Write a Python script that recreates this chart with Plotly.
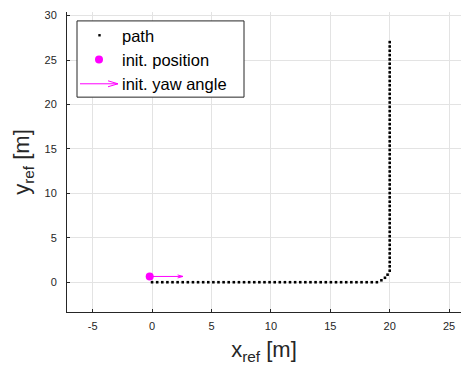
import math
import plotly.graph_objects as go

# ---------------- data ----------------
# straight leg along the x axis (y = 0)
leg1_x = [0.00, 0.43, 0.86, 1.29, 1.72, 2.15, 2.58, 3.01, 3.44, 3.87, 4.30, 4.73,
          5.16, 5.59, 6.02, 6.45, 6.88, 7.31, 7.74, 8.17, 8.60, 9.03, 9.46, 9.89,
          10.32, 10.75, 11.18, 11.61, 12.04, 12.47, 12.90, 13.33, 13.76, 14.19,
          14.62, 15.05, 15.48, 15.91, 16.34, 16.77, 17.20, 17.63, 18.06, 18.49, 18.92]
leg1_y = [0.0] * len(leg1_x)
# turn
corner_x = [19.30, 19.60, 19.82]
corner_y = [0.22, 0.50, 0.85]
# straight leg along y (x = 20)
leg2_y = [1.30, 1.79, 2.27, 2.76, 3.24, 3.73, 4.21, 4.70, 5.18, 5.67, 6.15, 6.64,
          7.12, 7.61, 8.09, 8.58, 9.06, 9.55, 10.03, 10.52, 11.00, 11.49, 11.97,
          12.46, 12.94, 13.43, 13.91, 14.40, 14.88, 15.37, 15.85, 16.34, 16.82,
          17.31, 17.79, 18.28, 18.76, 19.25, 19.73, 20.22, 20.70, 21.19, 21.67,
          22.16, 22.64, 23.13, 23.61, 24.10, 24.58, 25.07, 25.55, 26.04, 26.52, 27.01]
leg2_x = [20.0] * len(leg2_y)

path_x = leg1_x + corner_x + leg2_x
path_y = leg1_y + corner_y + leg2_y

init_x = -0.2
init_y = 0.65
yaw_deg = 0.0
arrow_len = 2.8

x_ticks = [-5, 0, 5, 10, 15, 20, 25]
x_tick_labels = ["-5", "0", "5", "10", "15", "20", "25"]
y_ticks = [0, 5, 10, 15, 20, 25, 30]
y_tick_labels = ["0", "5", "10", "15", "20", "25", "30"]
legend_labels = ["path", "init. position", "init. yaw angle"]

# ---------------- styling ----------------
MAGENTA = "#ff00ff"
AX = "#262626"
GRID = "#e3e3e3"
FONT = "Liberation Sans, Arial, sans-serif"
W, H = 471, 369
ML, MR, MT, MB = 67, 10, 9, 57
PW, PH = W - ML - MR, H - MT - MB


def px(x):
    return (x - ML) / PW


def py(y):
    return (H - MB - y) / PH


c, s = math.cos(math.radians(yaw_deg)), math.sin(math.radians(yaw_deg))
tip_x = init_x + arrow_len * c
tip_y = init_y + arrow_len * s
hl, hw = 0.45, 0.17
arrow_x = [init_x, tip_x, None, tip_x - hl * c, tip_x, tip_x - hl * c]
arrow_y = [init_y, tip_y, None, tip_y - hl * s + hw, tip_y, tip_y - hl * s - hw]

fig = go.Figure()
fig.add_trace(go.Scatter(x=path_x, y=path_y, mode="markers", name=legend_labels[0],
                         marker=dict(symbol="square", size=2.6, color="black"),
                         showlegend=False))
fig.add_trace(go.Scatter(x=arrow_x, y=arrow_y, mode="lines", name=legend_labels[2],
                         line=dict(color=MAGENTA, width=1), showlegend=False))
fig.add_trace(go.Scatter(x=[init_x], y=[init_y], mode="markers", name=legend_labels[1],
                         marker=dict(symbol="circle", size=8, color=MAGENTA),
                         showlegend=False))

axis_common = dict(
    showline=True, linecolor=AX, linewidth=1, mirror=False,
    showgrid=True, gridcolor=GRID, gridwidth=1, zeroline=False,
    ticks="inside", ticklen=3, tickcolor=AX, tickwidth=1,
    tickfont=dict(family=FONT, size=11, color=AX),
)

fig.update_xaxes(range=[-7.16, 26.0], tickvals=x_ticks, ticktext=x_tick_labels,
                 ticklabelstandoff=4, **axis_common,
                 title=dict(text="x<sub>ref</sub> [m]", standoff=10,
                            font=dict(family=FONT, size=22, color=AX)))
fig.update_yaxes(range=[-3.35, 30.4], tickvals=y_ticks, ticktext=y_tick_labels,
                 ticklabelstandoff=7, **axis_common,
                 title=dict(text="y<sub>ref</sub> [m]", standoff=8,
                            font=dict(family=FONT, size=22, color=AX)))

# ---------------- legend (drawn by hand to mimic MATLAB) ----------------
shapes = []
annotations = []
shapes.append(dict(type="rect", xref="paper", yref="paper",
                   x0=px(77), x1=px(244), y0=py(95), y1=py(18),
                   line=dict(color=AX, width=1), fillcolor="white", layer="above"))
rows = [32.5, 57, 81.5]
# path marker
shapes.append(dict(type="rect", xref="paper", yref="paper", xsizemode="pixel", ysizemode="pixel",
                   xanchor=px(99.5), yanchor=py(rows[0]), x0=-1.2, x1=1.2, y0=-1.2, y1=1.2,
                   line=dict(width=0), fillcolor="black", layer="above"))
# init position marker
shapes.append(dict(type="circle", xref="paper", yref="paper", xsizemode="pixel", ysizemode="pixel",
                   xanchor=px(99), yanchor=py(rows[1]), x0=-4, x1=4, y0=-4, y1=4,
                   line=dict(width=0), fillcolor=MAGENTA, layer="above"))
# arrow
for (xa, ya, xb, yb) in [(80, rows[2], 118, rows[2]), (108, rows[2] - 3, 118, rows[2]),
                         (108, rows[2] + 3, 118, rows[2])]:
    shapes.append(dict(type="line", xref="paper", yref="paper",
                       x0=px(xa), y0=py(ya), x1=px(xb), y1=py(yb),
                       line=dict(color=MAGENTA, width=1), layer="above"))
for lab, r in zip(legend_labels, rows):
    annotations.append(dict(xref="paper", yref="paper", x=px(120), y=py(r + 0.5),
                            xanchor="left", yanchor="middle", showarrow=False, text=lab,
                            font=dict(family=FONT, size=16.5, color="black")))

fig.update_layout(
    width=W, height=H, margin=dict(l=ML, r=MR, t=MT, b=MB),
    paper_bgcolor="white", plot_bgcolor="white",
    shapes=shapes, annotations=annotations, showlegend=False,
)

fig.write_html("out.html")
